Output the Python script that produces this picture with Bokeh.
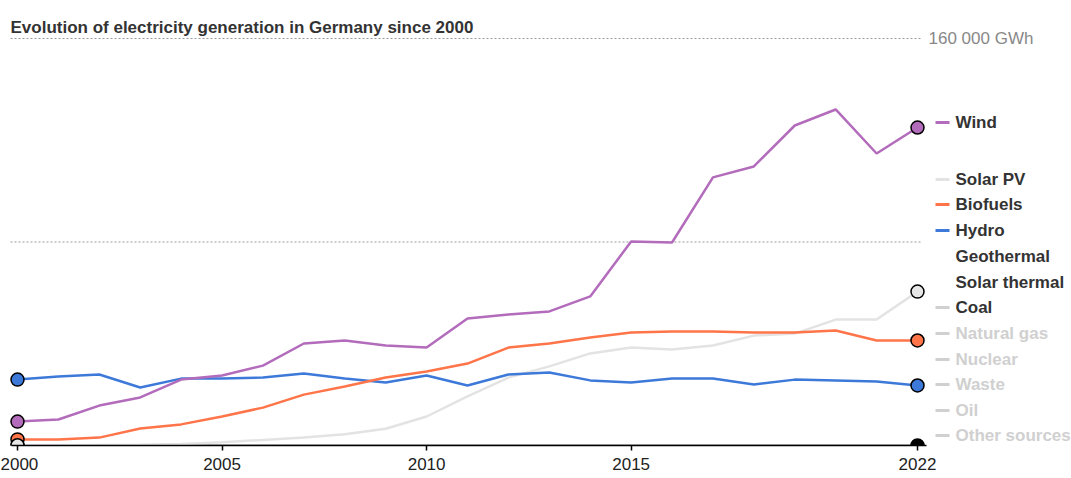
from bokeh.plotting import figure
from bokeh.models import Range1d, FixedTicker, Label, ColumnDataSource
from bokeh.core.properties import value
from bokeh.embed import file_html
from bokeh.resources import INLINE

# ---------------- data ----------------
years = list(range(2000, 2023))
wind = [9400, 10200, 15700, 18900, 25900, 27500, 31400, 40100, 41300, 39300, 38500,
        49900, 51500, 52700, 58600, 80200, 79800, 105400, 109700, 125800, 132100, 114800, 125000]
solar_pv = [100, 100, 200, 300, 600, 1300, 2200, 3100, 4400, 6600, 11400,
            19300, 26700, 31100, 36200, 38500, 37700, 39300, 43200, 44000, 49500, 49500, 60500]
biofuels = [2400, 2400, 3100, 6700, 8300, 11400, 14900, 20000, 23200, 26700, 29100,
            32200, 38500, 40100, 42500, 44400, 44800, 44800, 44400, 44400, 45200, 41300, 41300]
hydro = [25900, 27100, 27900, 22800, 26300, 26300, 26700, 28300, 26300, 24800, 27500,
         23600, 27900, 28700, 25600, 24800, 26300, 26300, 24000, 25900, 25600, 25200, 23600]
other_zero = [0] * len(years)

x_ticks = [2000, 2005, 2010, 2015, 2022]
y_grid = [80000, 160000]
y_label = "160 000 GWh"
title = "Evolution of electricity generation in Germany since 2000"

legend_names = ["Wind", "Solar PV", "Biofuels", "Hydro", "Geothermal", "Solar thermal",
                "Coal", "Natural gas", "Nuclear", "Waste", "Oil", "Other sources"]

# ---------------- styles / layout ----------------
C_WIND = "#b36bbb"
C_SOLAR = "#e3e3e3"
C_BIO = "#ff7448"
C_HYDRO = "#3d79d9"
C_DARK = "#333333"
C_OFF = "#d0d0d0"

legend_dash_colors = [C_WIND, C_SOLAR, C_BIO, C_HYDRO, None, None,
                      C_OFF, C_OFF, C_OFF, C_OFF, C_OFF, C_OFF]
legend_text_colors = [C_DARK] * 7 + [C_OFF] * 5
legend_y_px = [122, 179, 204, 230, 256, 282, 307, 333, 359, 384, 410, 435]

W, H = 1071, 478
ORIGIN = 0        # canvas offset in the picture
PX_PER_YEAR = 900 / 22.0
X0_PAGE = 17      # picture x of year 2000
Y0_PAGE = 445     # picture y of value 0
Y160_PAGE = 38    # picture y of 160000
GWH_PER_PX = 160000 / (Y0_PAGE - Y160_PAGE)


def px_x(page_x):
    return 2000 + (page_x - X0_PAGE) / PX_PER_YEAR


def px_y(page_y):
    return (Y0_PAGE - page_y) * GWH_PER_PX


frame_h = Y0_PAGE - ORIGIN
x_start = px_x(ORIGIN)
x_end = x_start + W / PX_PER_YEAR
y_end = frame_h * GWH_PER_PX

FONT = value("Liberation Sans")

p = figure(width=W, height=H, x_range=Range1d(x_start, x_end), y_range=Range1d(0, y_end),
           output_backend="svg", toolbar_location=None, y_axis_location=None,
           min_border=0, min_border_bottom=H - frame_h)
p.outline_line_color = None
p.xgrid.visible = False
p.ygrid.visible = False
p.background_fill_color = "white"
p.border_fill_color = "white"

# gridlines
p.segment(x0=[px_x(10)] * len(y_grid), x1=[px_x(922)] * len(y_grid), y0=y_grid, y1=y_grid,
          line_color="#999999", line_width=1, line_dash="2 2")
p.text(x=[px_x(928)], y=[y_grid[-1]], text=[y_label], text_font=FONT, text_font_size="17px",
       text_color="#888888", text_baseline="middle", text_align="left")

# lines
src = ColumnDataSource(dict(x=years, wind=wind, solar=solar_pv, bio=biofuels, hydro=hydro, zero=other_zero))
p.line("x", "zero", source=src, line_color="black", line_width=1.5)
p.line("x", "solar", source=src, line_color=C_SOLAR, line_width=2.5)
p.line("x", "hydro", source=src, line_color=C_HYDRO, line_width=2.5)
p.line("x", "bio", source=src, line_color=C_BIO, line_width=2.5)
p.line("x", "wind", source=src, line_color=C_WIND, line_width=2.5)

# end markers
ends = [0, len(years) - 1]
def end_pts(series):
    return [years[i] for i in ends], [series[i] for i in ends]

for series, col in [(other_zero, "black"), (hydro, C_HYDRO), (biofuels, C_BIO),
                    (solar_pv, "#e6e6e6"), (wind, C_WIND)]:
    xs, ys = end_pts(series)
    p.scatter(xs, ys, size=13, fill_color=col, line_color="black", line_width=1.5)

# axis
ax = p.xaxis[0]
ax.ticker = FixedTicker(ticks=x_ticks)
ax.bounds = (px_x(11), px_x(926))
ax.axis_line_color = "black"
ax.axis_line_width = 1.5
ax.major_tick_line_color = "black"
ax.major_tick_line_width = 1.5
ax.major_tick_out = 5
ax.major_tick_in = 0
ax.minor_tick_line_color = None
ax.major_label_standoff = 7
ax.major_label_text_font = "Liberation Sans"
ax.major_label_text_font_size = "17px"
ax.major_label_text_color = "#222222"

# legend
lx0, lx1, ltx = px_x(935), px_x(949), px_x(955)
for name, dc, tc, ypx in zip(legend_names, legend_dash_colors, legend_text_colors, legend_y_px):
    yv = px_y(ypx)
    if dc is not None:
        p.segment(x0=[lx0], x1=[lx1], y0=[yv], y1=[yv], line_color=dc, line_width=3)
    p.text(x=[ltx], y=[yv], text=[name], text_font=FONT, text_font_size="17px",
           text_font_style="bold", text_color=tc, text_baseline="middle", text_align="left")

# title
p.add_layout(Label(x=px_x(10), y=px_y(27), text=title, text_font="Liberation Sans",
                   text_font_size="17px", text_font_style="bold", text_color=C_DARK,
                   text_baseline="alphabetic"))

open("out.html", "w").write(file_html(p, INLINE))
